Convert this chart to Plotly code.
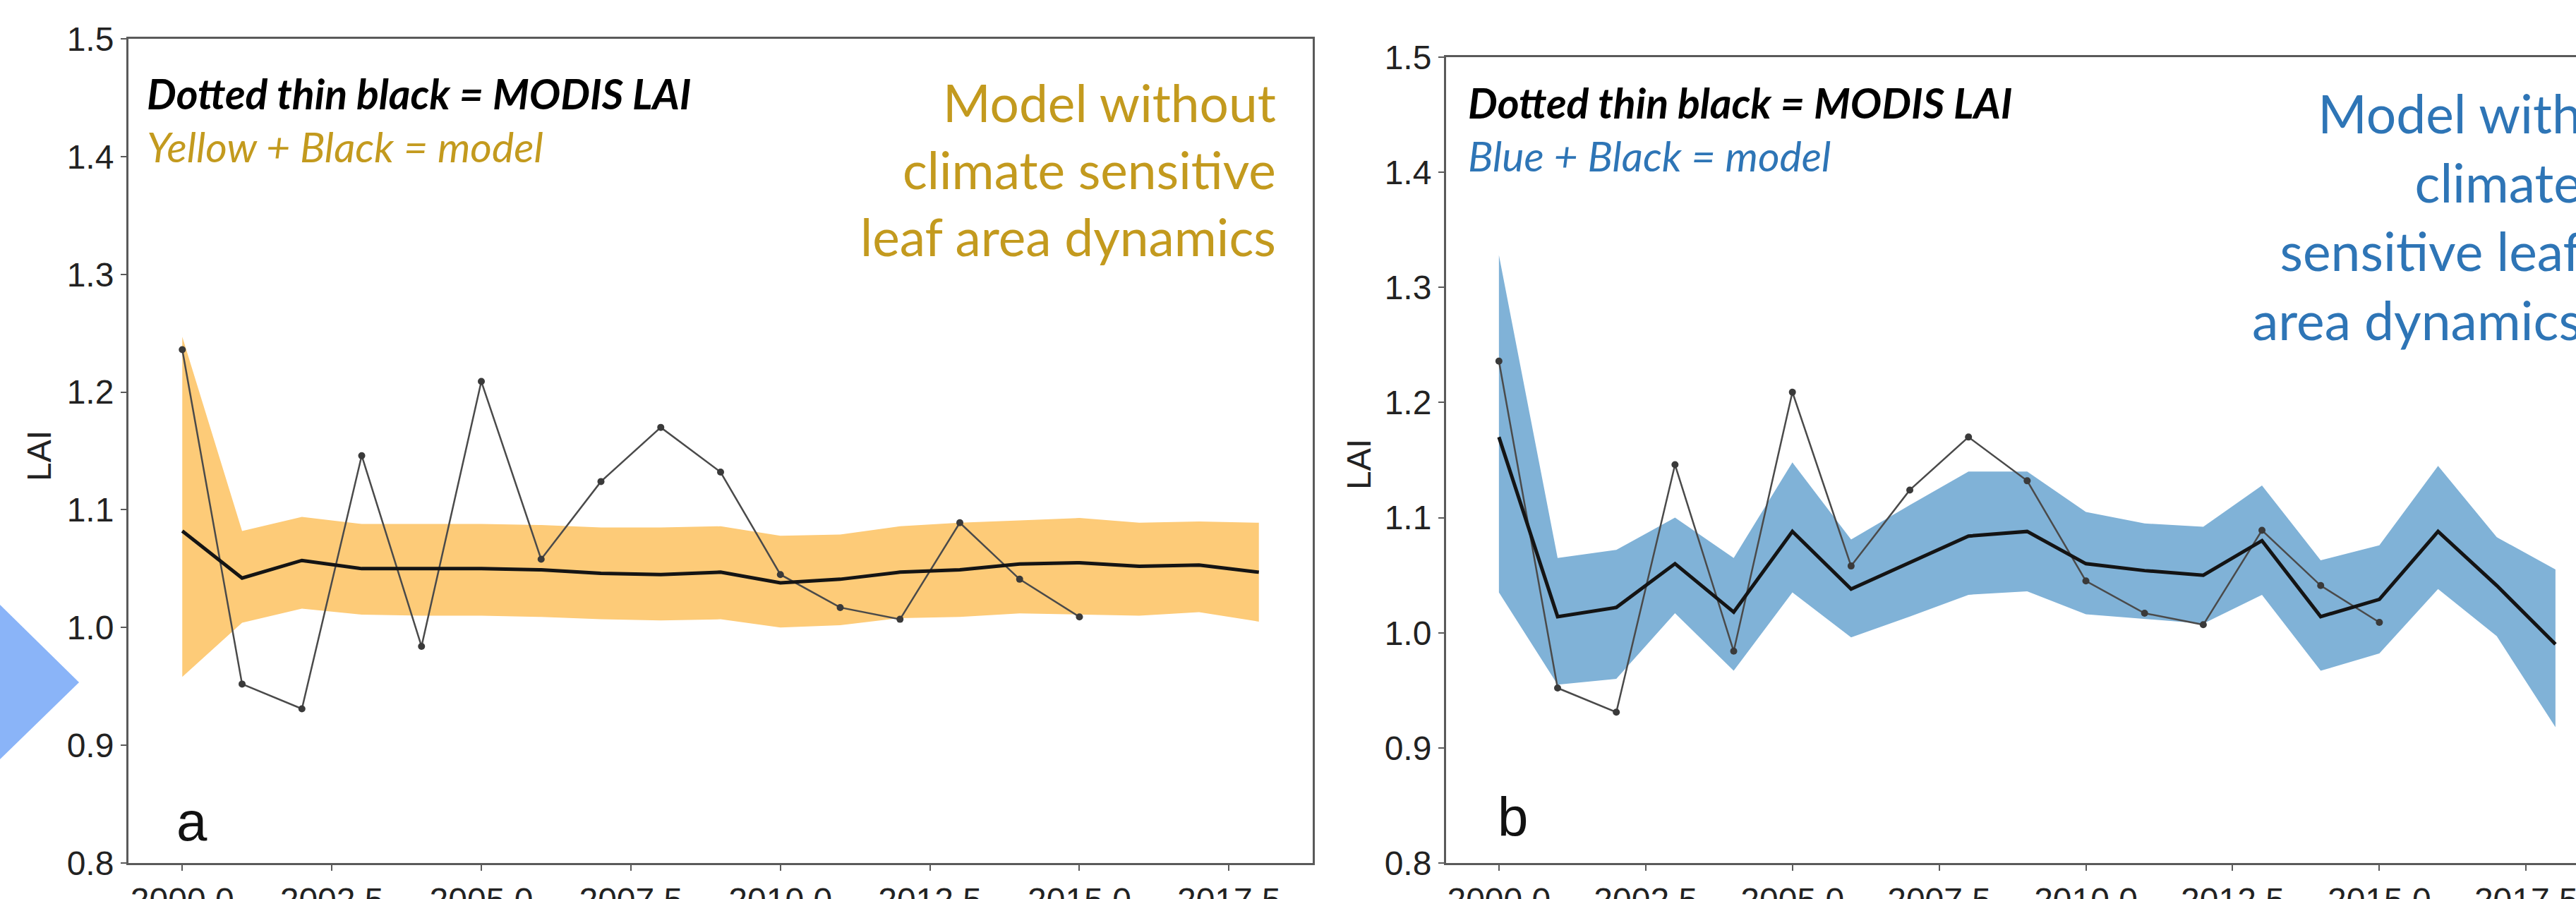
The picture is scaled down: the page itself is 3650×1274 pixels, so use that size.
import plotly.graph_objects as go

# ---------------- data ----------------
years = [2000, 2001, 2002, 2003, 2004, 2005, 2006, 2007, 2008, 2009,
         2010, 2011, 2012, 2013, 2014, 2015, 2016, 2017, 2018]
modis_years = [2000, 2001, 2002, 2003, 2004, 2005, 2006, 2007,
               2008, 2009, 2010, 2011, 2012, 2013, 2014, 2015]
modis_lai = [1.236, 0.952, 0.931, 1.146, 0.984, 1.209, 1.058, 1.124,
             1.170, 1.132, 1.045, 1.017, 1.007, 1.089, 1.041, 1.009]

# panel a: model without climate sensitive leaf area dynamics
a_mean = [1.082, 1.042, 1.057, 1.050, 1.050, 1.050, 1.049, 1.046, 1.045, 1.047,
          1.038, 1.041, 1.047, 1.049, 1.054, 1.055, 1.052, 1.053, 1.047]
a_upper = [1.247, 1.082, 1.094, 1.088, 1.088, 1.088, 1.087, 1.085, 1.085, 1.086,
           1.078, 1.079, 1.086, 1.089, 1.091, 1.093, 1.089, 1.090, 1.089]
a_lower = [0.958, 1.004, 1.016, 1.011, 1.010, 1.010, 1.009, 1.007, 1.006, 1.007,
           1.000, 1.002, 1.008, 1.009, 1.012, 1.011, 1.010, 1.013, 1.005]

# panel b: model with climate sensitive leaf area dynamics
b_mean = [1.170, 1.014, 1.022, 1.060, 1.018, 1.088, 1.038, 1.061, 1.084, 1.088,
          1.060, 1.054, 1.050, 1.080, 1.014, 1.029, 1.088, 1.041, 0.990]
b_upper = [1.328, 1.065, 1.072, 1.100, 1.065, 1.148, 1.081, 1.111, 1.140, 1.140,
           1.105, 1.095, 1.092, 1.128, 1.063, 1.076, 1.145, 1.083, 1.055]
b_lower = [1.035, 0.955, 0.960, 1.017, 0.967, 1.035, 0.996, 1.014, 1.033, 1.036,
           1.016, 1.012, 1.008, 1.033, 0.967, 0.982, 1.038, 0.997, 0.918]

x_tickvals = [2000.0, 2002.5, 2005.0, 2007.5, 2010.0, 2012.5, 2015.0, 2017.5]
x_ticktext = ["2000.0", "2002.5", "2005.0", "2007.5", "2010.0", "2012.5", "2015.0", "2017.5"]
y_tickvals = [0.8, 0.9, 1.0, 1.1, 1.2, 1.3, 1.4, 1.5]
y_ticktext = ["0.8", "0.9", "1.0", "1.1", "1.2", "1.3", "1.4", "1.5"]

# ---------------- styles ----------------
W, H = 3650, 1274
YELLOW_FILL = "rgb(253,203,120)"
BLUE_FILL = "rgb(128,178,215)"
GOLD_TEXT = "#C39A1E"
BLUE_TEXT = "#2E75B6"
AXIS_COLOR = "#5a5a5a"
TICK_FONT = dict(family="Liberation Sans", size=48, color="#222222")
TEXT_FONT = "Lato"


def px_x(v):
    return v / W


def px_y(v):
    return 1 - v / H


fig = go.Figure()


def add_panel(xa, ya, mean, upper, lower, fill):
    fig.add_trace(go.Scatter(x=years, y=lower, mode="lines", line=dict(width=0, color=fill),
                             xaxis=xa, yaxis=ya, showlegend=False, hoverinfo="skip"))
    fig.add_trace(go.Scatter(x=years, y=upper, mode="lines", line=dict(width=0, color=fill),
                             fill="tonexty", fillcolor=fill,
                             xaxis=xa, yaxis=ya, showlegend=False, hoverinfo="skip"))
    fig.add_trace(go.Scatter(x=modis_years, y=modis_lai, mode="lines+markers",
                             line=dict(width=2.5, color="#4a4a4a"),
                             marker=dict(size=10, color="#3a3a3a"),
                             xaxis=xa, yaxis=ya, showlegend=False))
    fig.add_trace(go.Scatter(x=years, y=mean, mode="lines",
                             line=dict(width=5, color="#141414"),
                             xaxis=xa, yaxis=ya, showlegend=False))


add_panel("x", "y", a_mean, a_upper, a_lower, YELLOW_FILL)
add_panel("x2", "y2", b_mean, b_upper, b_lower, BLUE_FILL)

axis_common = dict(showline=True, linecolor=AXIS_COLOR, linewidth=3, ticks="outside",
                   ticklen=8, tickwidth=2, tickcolor=AXIS_COLOR, showgrid=False,
                   zeroline=False, tickfont=TICK_FONT, automargin=False, fixedrange=True,
                   ticklabeloverflow="allow")

fig.update_layout(
    width=W, height=H,
    margin=dict(l=0, r=0, t=0, b=0),
    paper_bgcolor="white", plot_bgcolor="white",
    template="none",
    showlegend=False,
    xaxis=dict(domain=[px_x(182), px_x(1860)], range=[1999.1, 2018.9], anchor="y",
               tickvals=x_tickvals, ticktext=x_ticktext, mirror=True, **axis_common),
    yaxis=dict(domain=[px_y(1223), px_y(55)], range=[0.8, 1.5], anchor="x",
               tickvals=y_tickvals, ticktext=y_ticktext, mirror=True, **axis_common),
    xaxis2=dict(domain=[px_x(2049), 1.0], range=[1999.1, 2018.35], anchor="y2",
                tickvals=x_tickvals, ticktext=x_ticktext, mirror=True, **axis_common),
    yaxis2=dict(domain=[px_y(1223), px_y(81)], range=[0.8, 1.5], anchor="x2",
                tickvals=y_tickvals, ticktext=y_ticktext, mirror=False, **axis_common),
)

annotations = [
    # y axis titles
    dict(text="LAI", x=px_x(55), y=px_y(646), textangle=-90,
         font=dict(family="Liberation Sans", size=48, color="#222222")),
    dict(text="LAI", x=px_x(1925), y=px_y(658), textangle=-90,
         font=dict(family="Liberation Sans", size=48, color="#222222")),
    # panel letters
    dict(text="a", x=px_x(272), y=px_y(1164),
         font=dict(family="Liberation Sans", size=78, color="#111111")),
    dict(text="b", x=px_x(2143), y=px_y(1158),
         font=dict(family="Liberation Sans", size=78, color="#111111")),
    # legend-like texts, panel a
    dict(text="<b><i>Dotted thin black = MODIS LAI</i></b>", x=px_x(206), y=px_y(132),
         xanchor="left", font=dict(family=TEXT_FONT, size=59, color="#000000")),
    dict(text="<i>Yellow + Black = model</i>", x=px_x(206), y=px_y(208),
         xanchor="left", font=dict(family=TEXT_FONT, size=59, color=GOLD_TEXT)),
    dict(text="Model without<br>climate sensitive<br>leaf area dynamics",
         x=px_x(1810), y=px_y(240), xanchor="right", align="right",
         font=dict(family=TEXT_FONT, size=73, color=GOLD_TEXT)),
    # panel b
    dict(text="<b><i>Dotted thin black = MODIS LAI</i></b>", x=px_x(2078), y=px_y(145),
         xanchor="left", font=dict(family=TEXT_FONT, size=59, color="#000000")),
    dict(text="<i>Blue + Black = model</i>", x=px_x(2078), y=px_y(220),
         xanchor="left", font=dict(family=TEXT_FONT, size=59, color=BLUE_TEXT)),
    dict(text="Model with<br>climate<br>sensitive leaf<br>area dynamics",
         x=px_x(3660), y=px_y(306), xanchor="right", align="right",
         font=dict(family=TEXT_FONT, size=75, color=BLUE_TEXT)),
]
for a in annotations:
    a.setdefault("xref", "paper")
    a.setdefault("yref", "paper")
    a.setdefault("showarrow", False)
    a.setdefault("xanchor", "center")
    a.setdefault("yanchor", "middle")
fig.update_layout(annotations=annotations)

# light blue arrow head at the left edge
fig.add_shape(type="path", xref="paper", yref="paper",
              path=f"M {px_x(-2)} {px_y(855)} L {px_x(112)} {px_y(967)} L {px_x(-2)} {px_y(1078)} Z",
              fillcolor="#8AB4F8", line=dict(width=0), layer="above")

fig.write_html("out.html")
